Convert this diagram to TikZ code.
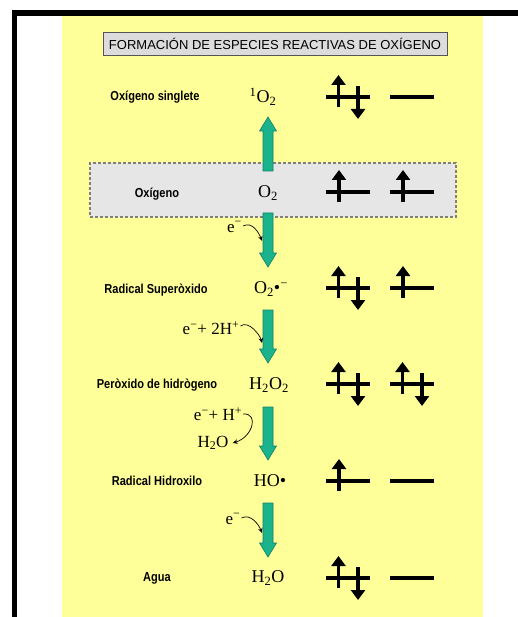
\documentclass[tikz,border=0pt]{standalone}
\usepackage{fontspec}
\setmainfont{Liberation Serif}
\newfontfamily\arialf{Liberation Sans}
\usetikzlibrary{arrows.meta,calc}
\definecolor{bgyellow}{HTML}{FFFF99}
\definecolor{boxgray}{HTML}{E6E6E6}
\definecolor{titlegray}{HTML}{DCDCDC}
\definecolor{titleborder}{HTML}{555555}
\definecolor{dashgray}{HTML}{7F7F7F}
\definecolor{arrgreen}{HTML}{1AB38C}
\definecolor{arrgreendark}{HTML}{10806A}
\newcommand{\gdownarrow}[2]{%
  \path[greenarr] let \p1=(#1), \p2=(#2) in
    (\x1-5pt,\y1) -- (\x1-5pt,\y2+14pt) -- (\x1-8.5pt,\y2+14pt) -- (\x1,\y2)
    -- (\x1+8.5pt,\y2+14pt) -- (\x1+5pt,\y2+14pt) -- (\x1+5pt,\y1) -- cycle;}
\newcommand{\guparrow}[2]{%
  \path[greenarr] let \p1=(#1), \p2=(#2) in
    (\x1-5pt,\y1) -- (\x1-5pt,\y2-14pt) -- (\x1-8.5pt,\y2-14pt) -- (\x1,\y2)
    -- (\x1+8.5pt,\y2-14pt) -- (\x1+5pt,\y2-14pt) -- (\x1+5pt,\y1) -- cycle;}
\newcommand{\lbltext}[1]{\scalebox{0.85}[1]{#1}}
\begin{document}
\begin{tikzpicture}[x=1pt,y=-1pt,
  lbl/.style={font=\arialf\bfseries\fontsize{13}{15}\selectfont, inner sep=0pt},
  chem/.style={font=\fontsize{18}{20}\selectfont, inner sep=0pt},
  reag/.style={font=\fontsize{17}{19}\selectfont, inner sep=0pt},
  thinarr/.style={-{Stealth[length=5pt,width=4.5pt]}, line width=0.7pt},
  orb/.style={line width=3.2pt},
  orbarr/.style={line width=3.2pt, -{Triangle[length=10pt,width=14pt]}},
  greenarr/.style={fill=arrgreen, draw=arrgreendark, line width=0.6pt},
  pics/orbpair/.style={code={
     \draw[orb] (0,0) -- (44,0);
     \draw[orbarr] (12.5,10) -- (12.5,-22);
     \draw[orbarr] (32,-11) -- (32,22);}},
  pics/orbup/.style={code={
     \draw[orb] (0,0) -- (44,0);
     \draw[orbarr] (13,10) -- (13,-22);}},
  pics/orbempty/.style={code={\draw[orb] (0,0) -- (44,0);}},
]
\useasboundingbox (0,0) rectangle (518,617);
% background and frame
\fill[bgyellow] (62,16) rectangle (483,617);
\fill[black] (12,10) rectangle (518,16);
\fill[black] (12,10) rectangle (17,617);
% title
\node[draw=titleborder, fill=titlegray, line width=0.8pt, minimum width=344, minimum height=23,
      font=\arialf\fontsize{13}{15}\selectfont, inner sep=0pt] (title) at (275,43.5)
      {FORMACIÓN DE ESPECIES REACTIVAS DE OXÍGENO};
% O2 box
\node[draw=dashgray, dash pattern=on 3pt off 2pt, line width=1.2pt, fill=boxgray,
      minimum width=366, minimum height=54, inner sep=0pt] (o2box) at (273,190) {};
% labels
\node[lbl] (l1) at (155,97) {\lbltext{Oxígeno singlete}};
\node[lbl] (l2) at (157,194) {\lbltext{Oxígeno}};
\node[lbl] (l3) at (156,290) {\lbltext{Radical Superòxido}};
\node[lbl] (l4) at (157,385) {\lbltext{Peròxido de hidrògeno}};
\node[lbl] (l5) at (157,481) {\lbltext{Radical Hidroxilo}};
\node[lbl] (l6) at (157,578) {\lbltext{Agua}};
% formulas
\node[chem] (f1) at (263,97) {\textsuperscript{1}O\textsubscript{2}};
\node[chem] (f2) at (268,193) {O\textsubscript{2}};
\node[chem] (f3) at (271,289) {O\textsubscript{2}•\textsuperscript{−}};
\node[chem] (f4) at (269,385) {H\textsubscript{2}O\textsubscript{2}};
\node[chem] (f5) at (270,481) {HO•};
\node[chem] (f6) at (268,578) {H\textsubscript{2}O};
% green arrows
\coordinate (u0) at (268,171); \coordinate (u1) at (268,117);
\coordinate (a0) at (268,213); \coordinate (a1) at (268,267);
\coordinate (b0) at (268,310); \coordinate (b1) at (268,363);
\coordinate (c0) at (268,407); \coordinate (c1) at (268,460);
\coordinate (d0) at (268,503); \coordinate (d1) at (268,557);
\guparrow{u0}{u1}
\gdownarrow{a0}{a1}
\gdownarrow{b0}{b1}
\gdownarrow{c0}{c1}
\gdownarrow{d0}{d1}
% reagents
\node[reag] (r1) at (234.5,227) {e\textsuperscript{−}};
\node[reag] (r2) at (211,328) {e\textsuperscript{−}+ 2H\textsuperscript{+}};
\node[reag] (r3) at (218,414) {e\textsuperscript{−}+ H\textsuperscript{+}};
\node[reag] (r4) at (213,443) {H\textsubscript{2}O};
\node[reag] (r5) at (233,519) {e\textsuperscript{−}};
% thin curved arrows
\coordinate (t1) at (262,241);
\coordinate (t2) at (262,343);
\coordinate (t4) at (262,533);
\draw[thinarr] ([xshift=1pt,yshift=1pt]r1.east) .. controls +(9,-5) and +(-3,-8) .. (t1);
\draw[thinarr] ([xshift=1pt,yshift=2pt]r2.east) .. controls +(8,-6) and +(-2,-8) .. (t2);
\draw[thinarr] ([xshift=1pt]r3.east) .. controls +(16,-1) and +(20,-6) .. ([xshift=4pt]r4.east);
\draw[thinarr] ([xshift=1pt,yshift=1pt]r5.east) .. controls +(9,-5) and +(-3,-8) .. (t4);
% orbital diagrams
\pic at (326,97) {orbpair};  \pic at (390,97) {orbempty};
\pic at (326,192) {orbup};   \pic at (390,192) {orbup};
\pic at (326,288) {orbpair}; \pic at (390,288) {orbup};
\pic at (326,384) {orbpair}; \pic at (390,384) {orbpair};
\pic at (326,481) {orbup};   \pic at (390,481) {orbempty};
\pic at (326,578) {orbpair}; \pic at (390,578) {orbempty};
\end{tikzpicture}
\end{document}
